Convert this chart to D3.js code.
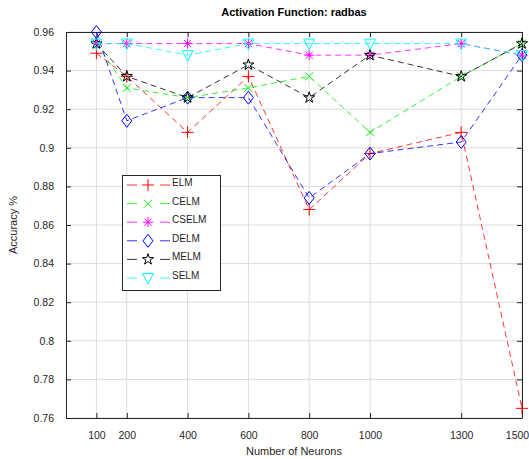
<!DOCTYPE html>
<html>
<head>
<meta charset="utf-8">
<script src="https://cdn.jsdelivr.net/npm/d3@7"></script>
<style>
  body { margin: 0; background: #fff; }
  text { font-family: "Liberation Sans", Arial, sans-serif; }
</style>
</head>
<body>
<svg id="chart"></svg>
<script>
// neurons on x axis
const neurons = [100, 200, 400, 600, 800, 1000, 1300, 1500];
const yTicks = [0.76, 0.78, 0.8, 0.82, 0.84, 0.86, 0.88, 0.9, 0.92, 0.94, 0.96];

const elm   = [0.949, 0.937, 0.908, 0.937, 0.868, 0.897, 0.908, 0.765];
const celm  = [0.954, 0.931, 0.926, 0.931, 0.937, 0.908, 0.937, 0.954];
const cselm = [0.954, 0.954, 0.954, 0.954, 0.948, 0.948, 0.954, 0.948];
const delm  = [0.960, 0.914, 0.926, 0.926, 0.874, 0.897, 0.903, 0.948];
const melm  = [0.954, 0.937, 0.926, 0.943, 0.926, 0.948, 0.937, 0.954];
const selm  = [0.954, 0.954, 0.948, 0.954, 0.954, 0.954, 0.954, 0.948];

const seriesNames = ["ELM", "CELM", "CSELM", "DELM", "MELM", "SELM"];
const seriesValues = [elm, celm, cselm, delm, melm, selm];
const seriesColors = ["#ff0000", "#00ee00", "#ff00ff", "#0000ff", "#000000", "#00ffff"];
const seriesMarkers = ["plus", "cross", "asterisk", "diamond", "star", "triangle"];

const width = 529, height = 459;
const margin = {left: 66, right: 7, top: 32, bottom: 41};

const svg = d3.select("#chart").attr("width", width).attr("height", height);

const x = d3.scaleLinear().domain([0, 1500]).range([margin.left, width - margin.right]);
const y = d3.scaleLinear().domain([0.76, 0.96]).range([height - margin.bottom, margin.top]);

const x0 = x.range()[0], x1 = x.range()[1];
const y0 = y.range()[0], y1 = y.range()[1];

// grid
svg.append("g").selectAll("line").data(neurons).enter().append("line")
    .attr("x1", d => x(d)).attr("x2", d => x(d))
    .attr("y1", y1).attr("y2", y0)
    .attr("stroke", "#dcdcdc").attr("stroke-width", 1);
svg.append("g").selectAll("line").data(yTicks).enter().append("line")
    .attr("x1", x0).attr("x2", x1)
    .attr("y1", d => y(d)).attr("y2", d => y(d))
    .attr("stroke", "#dcdcdc").attr("stroke-width", 1);

// axes
const axisColor = "#262626";
const xb = svg.append("g").attr("transform", `translate(0,${y0})`)
    .call(d3.axisBottom(x).tickValues(neurons).tickSizeInner(-5).tickSizeOuter(0).tickPadding(14)
        .tickFormat(d3.format("d")));
const xt = svg.append("g").attr("transform", `translate(0,${y1})`)
    .call(d3.axisTop(x).tickValues(neurons).tickSizeInner(-5).tickSizeOuter(0).tickFormat(""));
const yl = svg.append("g").attr("transform", `translate(${x0},0)`)
    .call(d3.axisLeft(y).tickValues(yTicks).tickSizeInner(-5).tickSizeOuter(0).tickPadding(12)
        .tickFormat(d => String(+d.toFixed(2))));
const yr = svg.append("g").attr("transform", `translate(${x1},0)`)
    .call(d3.axisRight(y).tickValues(yTicks).tickSizeInner(-5).tickSizeOuter(0).tickFormat(""));
[xb, xt, yl, yr].forEach(g => {
    g.selectAll("path").attr("stroke", axisColor);
    g.selectAll("line").attr("stroke", axisColor);
    g.selectAll("text").attr("fill", "#262626").attr("font-size", 10.5)
        .style("font-family", "'Liberation Sans', Arial, sans-serif");
});
// keep the last x label inside the page
xb.selectAll(".tick text").filter(d => d === 1500).attr("dx", -5);

// markers
function drawMarker(g, type, color) {
    if (type === "plus") {
        g.append("path").attr("d", "M-6,0H6M0,-6V6").attr("stroke", color).attr("fill", "none");
    } else if (type === "cross") {
        g.append("path").attr("d", "M-4,-4L4,4M-4,4L4,-4").attr("stroke", color).attr("fill", "none");
    } else if (type === "asterisk") {
        g.append("path").attr("d", "M-5,0H5M0,-5V5M-3.6,-3.6L3.6,3.6M-3.6,3.6L3.6,-3.6")
            .attr("stroke", color).attr("fill", "none");
    } else if (type === "diamond") {
        g.append("path").attr("d", "M0,-6.5L5,0L0,6.5L-5,0Z").attr("stroke", color).attr("fill", "none");
    } else if (type === "star") {
        g.append("path").attr("d", d3.symbol(d3.symbolStar, 38)()).attr("stroke", color).attr("fill", "none");
    } else if (type === "triangle") {
        g.append("path").attr("d", "M-5.5,-4.5L5.5,-4.5L0,6Z").attr("stroke", color).attr("fill", "none");
    }
}

const line = d3.line().x((d, i) => x(neurons[i])).y(d => y(d));

seriesValues.forEach((vals, si) => {
    const g = svg.append("g");
    g.append("path").datum(vals).attr("d", line)
        .attr("fill", "none").attr("stroke", seriesColors[si])
        .attr("stroke-width", 0.8).attr("stroke-dasharray", "6,4");
    vals.forEach((v, i) => {
        const mg = g.append("g").attr("transform", `translate(${x(neurons[i])},${y(v)})`);
        drawMarker(mg, seriesMarkers[si], seriesColors[si]);
    });
});

// legend
const legend = svg.append("g");
legend.append("rect").attr("x", 122.5).attr("y", 175.5).attr("width", 98).attr("height", 115)
    .attr("fill", "#fff").attr("stroke", axisColor);
seriesNames.forEach((name, i) => {
    const ly = 185 + i * 18.6;
    legend.append("line").attr("x1", 127).attr("x2", 170).attr("y1", ly).attr("y2", ly)
        .attr("stroke", seriesColors[i]).attr("stroke-width", 0.8).attr("stroke-dasharray", "10,23");
    const mg = legend.append("g").attr("transform", `translate(148,${ly})`);
    drawMarker(mg, seriesMarkers[i], seriesColors[i]);
    legend.append("text").attr("x", 172).attr("y", ly).attr("dy", "0.1em")
        .attr("font-size", 10).attr("fill", "#262626").text(name);
});

// title and labels
svg.append("text").attr("x", (x0 + x1) / 2).attr("y", 16).attr("text-anchor", "middle")
    .attr("font-size", 11).attr("font-weight", "bold").attr("fill", "#000")
    .text("Activation Function: radbas");
svg.append("text").attr("x", (x0 + x1) / 2).attr("y", 455).attr("text-anchor", "middle")
    .attr("font-size", 11).attr("fill", "#262626").text("Number of Neurons");
svg.append("text").attr("transform", `translate(17,${(y0 + y1) / 2}) rotate(-90)`)
    .attr("text-anchor", "middle").attr("font-size", 11).attr("fill", "#262626").text("Accuracy %");
</script>
</body>
</html>
